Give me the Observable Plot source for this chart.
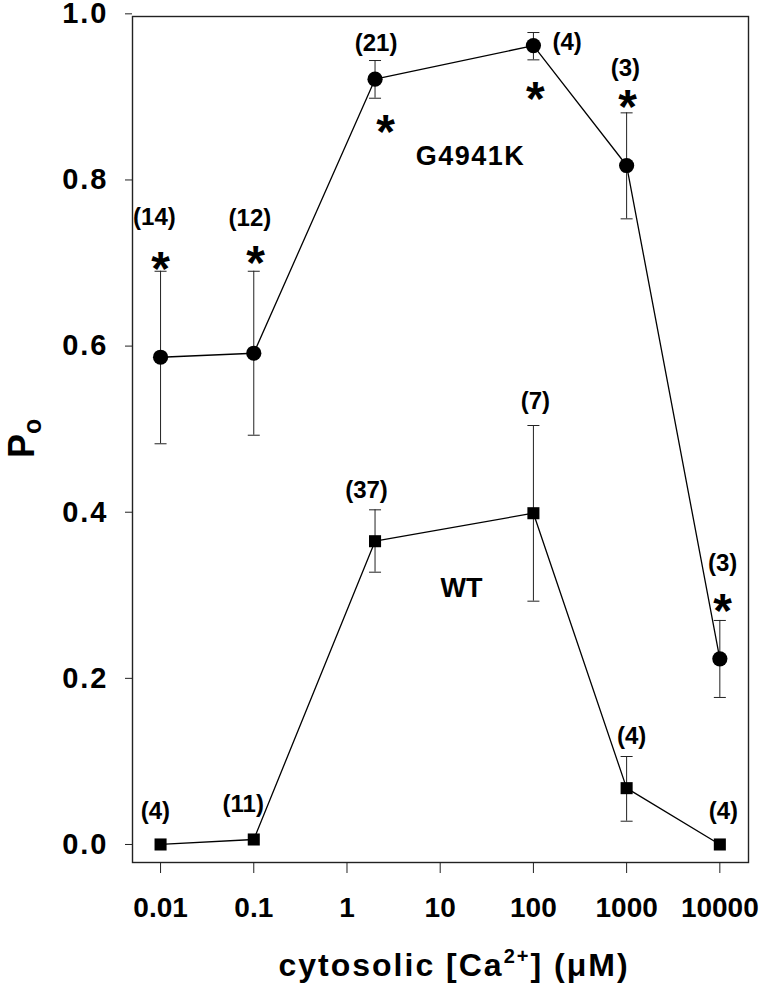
<!DOCTYPE html>
<html><head><meta charset="utf-8">
<script src="https://cdn.jsdelivr.net/npm/d3@7"></script>
<script src="https://cdn.jsdelivr.net/npm/@observablehq/plot@0.6"></script>
<style>
body{margin:0;background:#fff;}
#chart svg{display:block;}
</style></head><body><div id="chart"></div>
<script>
// ---- data ----
const conc = [0.01, 0.1, 2, 100, 1000, 10000];            // cytosolic [Ca2+] (µM)
const g4941kPo   = [0.5866, 0.5914, 0.9213, 0.9618, 0.8174, 0.2235];
const g4941kLow  = [0.4824, 0.4927, 0.8984, 0.9446, 0.7532, 0.1770];
const g4941kHigh = [0.6901, 0.6901, 0.9438, 0.9775, 0.8808, 0.2697];
const wtPo   = [0.000, 0.006, 0.3651, 0.3988, 0.0678, 0.000];
const wtLow  = [null,  null,  0.3278, 0.2929, 0.0280, null];
const wtHigh = [null,  null,  0.4029, 0.5044, 0.1059, null];

// n-labels (text, anchor in data units)
const g4941kN  = ["(14)", "(12)", "(21)", "(4)", "(3)", "(3)"];
const g4941kNx = [0.0086, 0.091, 2.05, 230, 970, 10700];
const g4941kNy = [0.7548, 0.7536, 0.9643, 0.9661, 0.9342, 0.3389];
const wtN  = ["(4)", "(11)", "(37)", "(7)", "(4)", "(4)"];
const wtNx = [0.0088, 0.077, 1.62, 105, 1130, 10900];
const wtNy = [0.0397, 0.0482, 0.4261, 0.5333, 0.1300, 0.0397];

// significance asterisks (data units)
const starX = [0.01, 0.1045, 2.59, 105, 1023, 10690];
const starY = [0.7054, 0.7127, 0.8703, 0.9110, 0.9004, 0.2937];

// series names (data units)
const seriesNames = ["G4941K", "WT"];
const seriesNameX = [21.1, 16.9];
const seriesNameY = [0.8282, 0.3088];

const xTicks = [0.01, 0.1, 1, 10, 100, 1000, 10000];
const xTickLabels = ["0.01", "0.1", "1", "10", "100", "1000", "10000"];
const yTicks = [0, 0.2, 0.4, 0.6, 0.8, 1.0];
const yTickLabels = ["0.0", "0.2", "0.4", "0.6", "0.8", "1.0"];

// ---- build ----
const FONT = '"Liberation Sans", Arial, Helvetica, sans-serif';
const g = conc.map((c, i) => ({c, po: g4941kPo[i], lo: g4941kLow[i], hi: g4941kHigh[i]}));
const w = conc.map((c, i) => ({c, po: wtPo[i], lo: wtLow[i], hi: wtHigh[i]}));
const bars = [...g, ...w].filter(d => d.lo != null);
const caps = bars.flatMap(d => [{c: d.c, v: d.lo}, {c: d.c, v: d.hi}]);
const nLabels = [
  ...g4941kN.map((t, i) => ({t, x: g4941kNx[i], y: g4941kNy[i]})),
  ...wtN.map((t, i) => ({t, x: wtNx[i], y: wtNy[i]}))
];
const stars = starX.map((x, i) => ({x, y: starY[i]}));
const names = seriesNames.map((t, i) => ({t, x: seriesNameX[i], y: seriesNameY[i]}));

const capSymbol = {draw(ctx, size) { const r = Math.sqrt(size / Math.PI); ctx.moveTo(-r, 0); ctx.lineTo(r, 0); }};
const starFont = 48;

const svgNode = Plot.plot({
  width: 760, height: 986,
  marginLeft: 132, marginRight: 12, marginTop: 16, marginBottom: 124,
  style: {fontFamily: FONT, fontWeight: "bold", background: "white", color: "black"},
  x: {type: "log", domain: [0.005, 20300]},
  y: {domain: [-0.0217, 0.9968]},
  marks: [
    Plot.frame({stroke: "#222", strokeWidth: 1.4}),
    Plot.axisY({ticks: yTicks, tickFormat: d => yTickLabels[yTicks.indexOf(d)], tickSize: 7, tickPadding: 17, fontSize: 29, label: null, stroke: "#222"}),
    Plot.axisX({ticks: xTicks, tickFormat: d => xTickLabels[xTicks.indexOf(d)], tickSize: 11, tickPadding: 24, fontSize: 28, label: null, stroke: "#222"}),
    Plot.ruleX(bars, {x: "c", y1: "lo", y2: "hi", stroke: "#222", strokeWidth: 1}),
    Plot.dot(caps, {x: "c", y: "v", symbol: capSymbol, r: 6, stroke: "#222", strokeWidth: 1, fill: "none"}),
    Plot.line(g, {x: "c", y: "po", stroke: "black", strokeWidth: 1.3}),
    Plot.line(w, {x: "c", y: "po", stroke: "black", strokeWidth: 1.3}),
    Plot.dot(g, {x: "c", y: "po", symbol: "circle", r: 7.6, fill: "black", stroke: "none"}),
    Plot.dot(w, {x: "c", y: "po", symbol: "square", r: 6.8, fill: "black", stroke: "none"}),
    Plot.text(nLabels, {x: "x", y: "y", text: "t", fontSize: 24, fill: "black"}),
    Plot.text(stars, {x: "x", y: "y", text: () => "*", fontSize: starFont, dy: 0.24 * starFont, fill: "black"}),
    Plot.text(names, {x: "x", y: "y", text: "t", fontSize: 27, fill: "black"})
  ]
});

document.getElementById("chart").appendChild(svgNode);
const svg = d3.select(svgNode);

svg.selectAll('g[aria-label="y-axis tick label"]').attr("letter-spacing", 2);
svg.selectAll("text").filter(function() { return this.textContent === "G4941K"; }).attr("letter-spacing", 1.5);

// y-axis title: P with subscript o
const yt = svg.append("text")
  .attr("transform", "translate(34,458) rotate(-90)")
  .attr("text-anchor", "start")
  .attr("font-family", FONT).attr("font-weight", "bold").attr("fill", "black");
yt.append("tspan").attr("font-size", 36).text("P");
yt.append("tspan").attr("font-size", 25).attr("dy", 7).text("o");

// x-axis title with superscript
const xt = svg.append("text")
  .attr("x", 454).attr("y", 976)
  .attr("text-anchor", "middle")
  .attr("font-family", FONT).attr("font-weight", "bold").attr("font-size", 32)
  .attr("letter-spacing", 2).attr("fill", "black");
xt.append("tspan").text("cytosolic [Ca");
xt.append("tspan").attr("font-size", 20).attr("dy", -13).text("2+");
xt.append("tspan").attr("dy", 13).text("] (\u03BCM)");
</script>
</body></html>
